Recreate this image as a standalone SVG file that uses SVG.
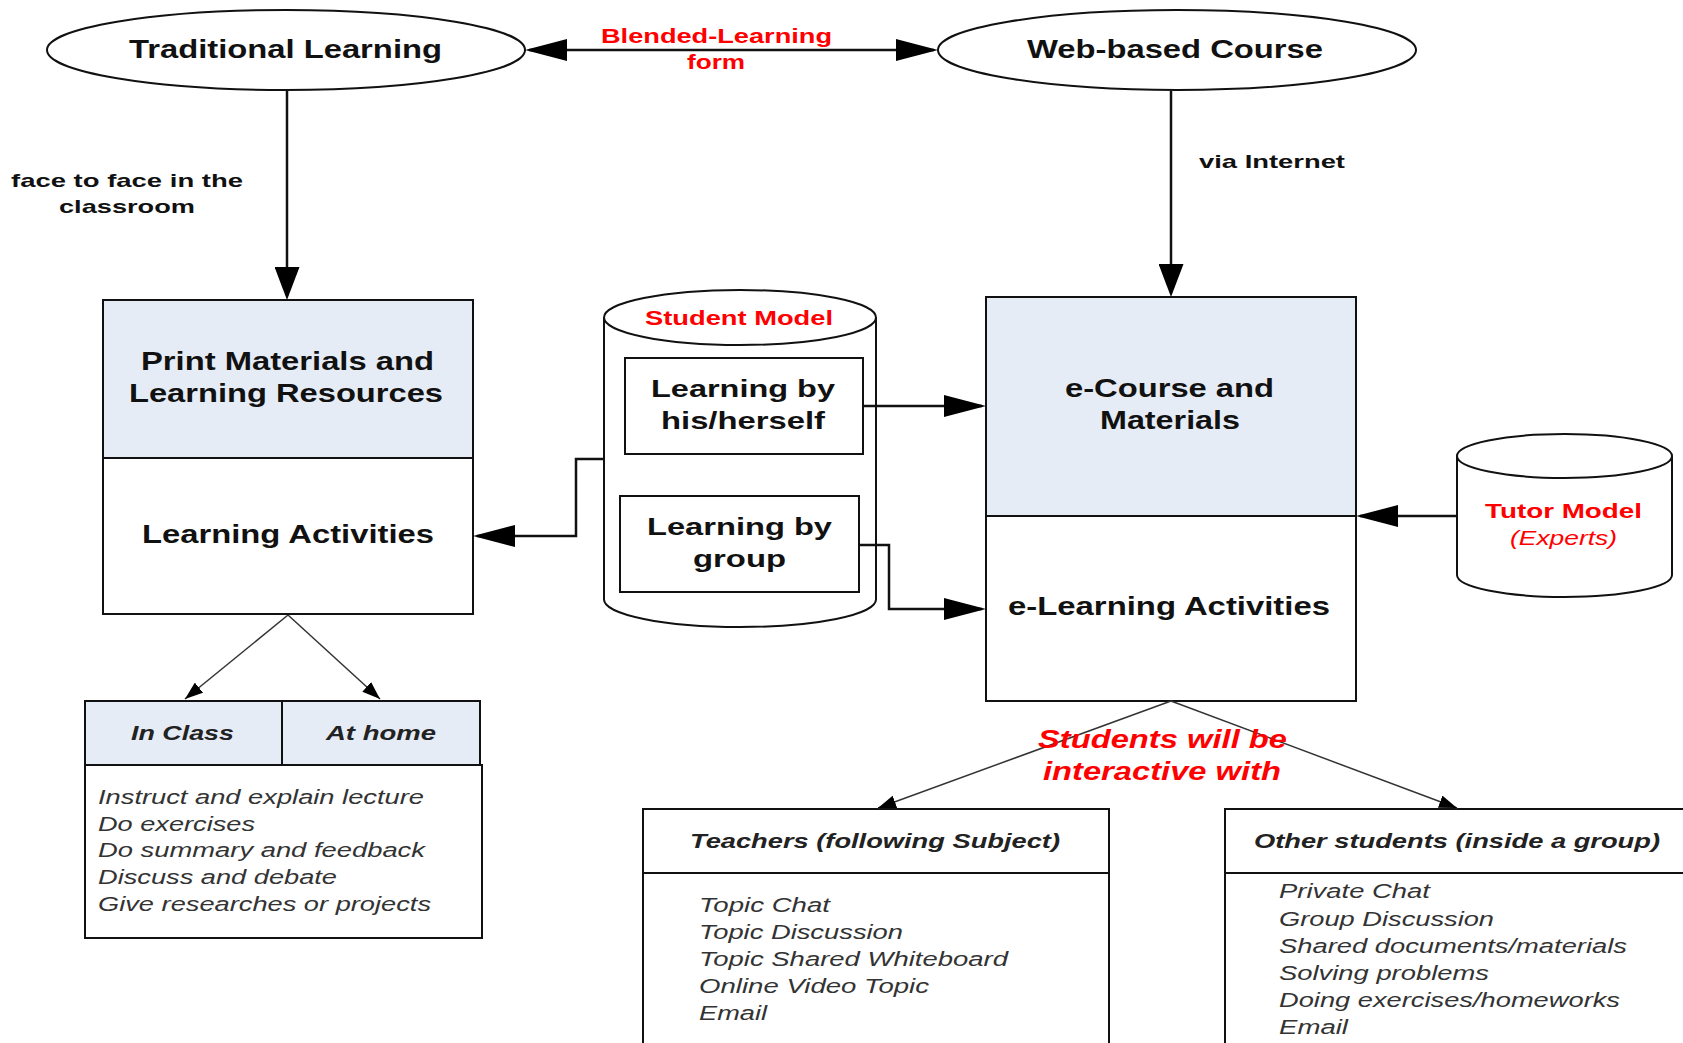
<svg xmlns="http://www.w3.org/2000/svg" width="1683" height="1043" viewBox="0 0 1683 1043">
<style>
text{font-family:"Liberation Sans",Arial,sans-serif;}
.b{font-weight:bold;fill:#111;}
.red{fill:#ff0000;font-weight:bold;}
.it{font-style:italic;fill:#333;}
.bi{font-style:italic;font-weight:bold;fill:#222;}
.shape{fill:#fff;stroke:#111;stroke-width:2;}
.fillb{fill:#e6ecf6;stroke:none;}
.ln{fill:none;stroke:#111;stroke-width:2;}
.con{fill:none;stroke:#111;stroke-width:2.5;}
.thin{fill:none;stroke:#333;stroke-width:1.5;}
</style>
<defs>
<marker id="arrH" markerUnits="userSpaceOnUse" viewBox="0 0 42 22" refX="38" refY="11" markerWidth="42" markerHeight="22" orient="auto-start-reverse"><path d="M0,0 L42,11 L0,22 z" fill="#000"/></marker>
<marker id="arrV" markerUnits="userSpaceOnUse" viewBox="0 0 33 25" refX="29" refY="12.5" markerWidth="33" markerHeight="25" orient="auto"><path d="M0,0 L33,12.5 L0,25 z" fill="#000"/></marker>
<marker id="arrS" markerUnits="userSpaceOnUse" viewBox="0 0 18 13" refX="18" refY="6.5" markerWidth="18" markerHeight="13" orient="auto"><path d="M0,0 L18,6.5 L0,13 z" fill="#000"/></marker>
</defs>
<rect width="1683" height="1043" fill="#fff"/>

<g id="traditional">
<ellipse class="shape" cx="286" cy="50" rx="239" ry="40" stroke-width="1.5"/>
<text class="b" x="129" y="58" font-size="26" textLength="313" lengthAdjust="spacingAndGlyphs">Traditional Learning</text>
</g>

<g id="web">
<ellipse class="shape" cx="1177" cy="50" rx="239" ry="40" stroke-width="1.5"/>
<text class="b" x="1027" y="58" font-size="26" textLength="296" lengthAdjust="spacingAndGlyphs">Web-based Course</text>
</g>

<g id="print-box">
<rect class="shape" x="103" y="300" width="370" height="314"/>
<rect class="fillb" x="104" y="301" width="368" height="157"/>
<line class="ln" x1="103" y1="458" x2="473" y2="458"/>
<text class="b" x="141" y="370" font-size="25" textLength="293" lengthAdjust="spacingAndGlyphs">Print Materials and</text>
<text class="b" x="129" y="402" font-size="25" textLength="314" lengthAdjust="spacingAndGlyphs">Learning Resources</text>
<text class="b" x="142" y="543" font-size="25" textLength="292" lengthAdjust="spacingAndGlyphs">Learning Activities</text>
</g>

<g id="student-model">
<path class="shape" d="M604,317.5 V599.5 A136,27.5 0 0 0 876,599.5 V317.5"/>
<ellipse class="shape" cx="740" cy="317.5" rx="136" ry="27.5"/>
<text class="red" x="645" y="325" font-size="20" textLength="188" lengthAdjust="spacingAndGlyphs">Student Model</text>
<rect class="shape" x="625" y="358" width="238" height="96"/>
<text class="b" x="651" y="397" font-size="24" textLength="184" lengthAdjust="spacingAndGlyphs">Learning by</text>
<text class="b" x="661" y="429" font-size="24" textLength="164" lengthAdjust="spacingAndGlyphs">his/herself</text>
<rect class="shape" x="620" y="496" width="239" height="96"/>
<text class="b" x="647" y="535" font-size="24" textLength="185" lengthAdjust="spacingAndGlyphs">Learning by</text>
<text class="b" x="693" y="567" font-size="24" textLength="93" lengthAdjust="spacingAndGlyphs">group</text>
</g>

<g id="ecourse-box">
<rect class="shape" x="986" y="297" width="370" height="404"/>
<rect class="fillb" x="987" y="298" width="368" height="218"/>
<line class="ln" x1="986" y1="516" x2="1356" y2="516"/>
<text class="b" x="1065" y="397" font-size="25" textLength="209" lengthAdjust="spacingAndGlyphs">e-Course and</text>
<text class="b" x="1100" y="429" font-size="25" textLength="140" lengthAdjust="spacingAndGlyphs">Materials</text>
<text class="b" x="1008" y="615" font-size="25" textLength="322" lengthAdjust="spacingAndGlyphs">e-Learning Activities</text>
</g>

<g id="tutor-model">
<path class="shape" d="M1457,456 V575 A107.5,22 0 0 0 1672,575 V456"/>
<ellipse class="shape" cx="1564.5" cy="456" rx="107.5" ry="22"/>
<text class="red" x="1485" y="518" font-size="20" textLength="157" lengthAdjust="spacingAndGlyphs">Tutor Model</text>
<text x="1510" y="545" font-size="20" fill="#ff0000" font-style="italic" textLength="107" lengthAdjust="spacingAndGlyphs">(Experts)</text>
</g>

<g id="class-home">
<rect x="85" y="701" width="395" height="64" fill="#e6ecf6" stroke="#111" stroke-width="2"/>
<line class="ln" x1="282" y1="701" x2="282" y2="765"/>
<text class="bi" x="131" y="740" font-size="21" textLength="103" lengthAdjust="spacingAndGlyphs">In Class</text>
<text class="bi" x="326" y="740" font-size="21" textLength="110" lengthAdjust="spacingAndGlyphs">At home</text>
<rect class="shape" x="85" y="765" width="397" height="173"/>
<text class="it" font-size="20" x="98" y="804" textLength="326" lengthAdjust="spacingAndGlyphs">Instruct and explain lecture</text>
<text class="it" font-size="20" x="98" y="830.5" textLength="157" lengthAdjust="spacingAndGlyphs">Do exercises</text>
<text class="it" font-size="20" x="98" y="857" textLength="327" lengthAdjust="spacingAndGlyphs">Do summary and feedback</text>
<text class="it" font-size="20" x="98" y="884" textLength="239" lengthAdjust="spacingAndGlyphs">Discuss and debate</text>
<text class="it" font-size="20" x="98" y="910.5" textLength="333" lengthAdjust="spacingAndGlyphs">Give researches or projects</text>
</g>

<g id="teachers">
<rect class="shape" x="643" y="809" width="466" height="300"/>
<line class="ln" x1="643" y1="873" x2="1109" y2="873"/>
<text class="bi" x="690" y="848" font-size="21" textLength="370" lengthAdjust="spacingAndGlyphs">Teachers (following Subject)</text>
<text class="it" font-size="20" x="699" y="912" textLength="131" lengthAdjust="spacingAndGlyphs">Topic Chat</text>
<text class="it" font-size="20" x="699" y="939" textLength="204" lengthAdjust="spacingAndGlyphs">Topic Discussion</text>
<text class="it" font-size="20" x="699" y="966" textLength="309" lengthAdjust="spacingAndGlyphs">Topic Shared Whiteboard</text>
<text class="it" font-size="20" x="699" y="993" textLength="230" lengthAdjust="spacingAndGlyphs">Online Video Topic</text>
<text class="it" font-size="20" x="699" y="1020" textLength="68" lengthAdjust="spacingAndGlyphs">Email</text>
</g>

<g id="other-students">
<rect class="shape" x="1225" y="809" width="500" height="300"/>
<line class="ln" x1="1225" y1="873" x2="1725" y2="873"/>
<text class="bi" x="1254" y="848" font-size="21" textLength="406" lengthAdjust="spacingAndGlyphs">Other students (inside a group)</text>
<text class="it" font-size="20" x="1279" y="898" textLength="151" lengthAdjust="spacingAndGlyphs">Private Chat</text>
<text class="it" font-size="20" x="1279" y="925.5" textLength="215" lengthAdjust="spacingAndGlyphs">Group Discussion</text>
<text class="it" font-size="20" x="1279" y="952.5" textLength="348" lengthAdjust="spacingAndGlyphs">Shared documents/materials</text>
<text class="it" font-size="20" x="1279" y="980" textLength="210" lengthAdjust="spacingAndGlyphs">Solving problems</text>
<text class="it" font-size="20" x="1279" y="1006.5" textLength="341" lengthAdjust="spacingAndGlyphs">Doing exercises/homeworks</text>
<text class="it" font-size="20" x="1279" y="1034" textLength="69" lengthAdjust="spacingAndGlyphs">Email</text>
</g>

<g id="connectors">
<path class="con" d="M529,50 H934" marker-start="url(#arrH)" marker-end="url(#arrH)"/>
<path class="con" d="M287,91 V296" marker-end="url(#arrV)"/>
<path class="con" d="M1171,91 V293" marker-end="url(#arrV)"/>
<path class="con" d="M604,459 H576 V536 H477" marker-end="url(#arrH)"/>
<path class="con" d="M863,406 H982" marker-end="url(#arrH)"/>
<path class="con" d="M859,545 H889 V609 H982" marker-end="url(#arrH)"/>
<path class="con" d="M1457,516 H1360" marker-end="url(#arrH)"/>
<path class="thin" d="M288,615 L185,699" marker-end="url(#arrS)"/>
<path class="thin" d="M288,615 L380,699" marker-end="url(#arrS)"/>
<path class="thin" d="M1171,701 L878,808" marker-end="url(#arrS)"/>
<path class="thin" d="M1171,701 L1457,808" marker-end="url(#arrS)"/>
</g>

<g id="labels">
<text class="red" x="601" y="43" font-size="21" textLength="231" lengthAdjust="spacingAndGlyphs">Blended-Learning</text>
<text class="red" x="687" y="69" font-size="21" textLength="58" lengthAdjust="spacingAndGlyphs">form</text>
<text class="b" x="11" y="187" font-size="19" textLength="232" lengthAdjust="spacingAndGlyphs">face to face in the</text>
<text class="b" x="59" y="213" font-size="19" textLength="136" lengthAdjust="spacingAndGlyphs">classroom</text>
<text class="b" x="1199" y="168" font-size="19" textLength="146" lengthAdjust="spacingAndGlyphs">via Internet</text>
<text class="red" x="1038" y="748" font-size="25" font-style="italic" textLength="249" lengthAdjust="spacingAndGlyphs">Students will be</text>
<text class="red" x="1043" y="780" font-size="25" font-style="italic" textLength="238" lengthAdjust="spacingAndGlyphs">interactive with</text>
</g>
</svg>
